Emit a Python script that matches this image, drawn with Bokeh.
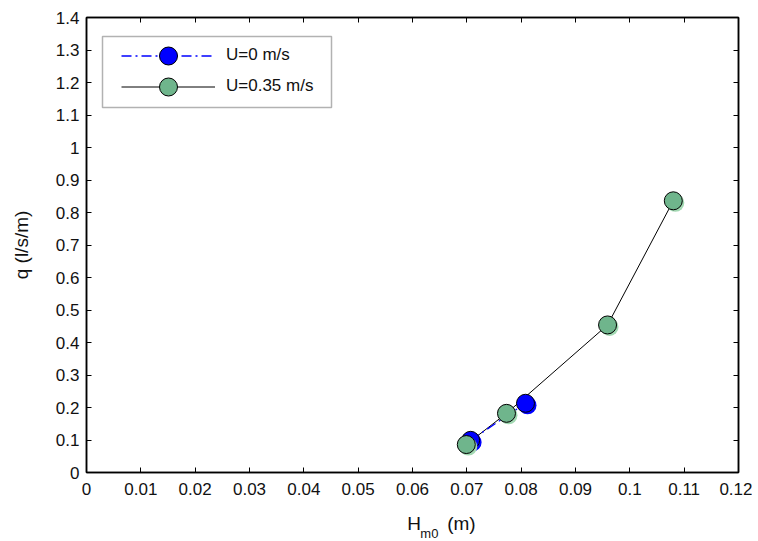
from bokeh.plotting import figure
from bokeh.layouts import column
from bokeh.models import (ColumnDataSource, FixedTicker, LinearAxis, Legend, LegendItem,
                          Range1d, BoxAnnotation)
from bokeh.core.properties import value
from bokeh.transform import dodge
from bokeh.embed import file_html
from bokeh.resources import INLINE

# ---- data ----
u0_h = [0.0707, 0.0808]
u0_q = [0.099, 0.213]
u35_h = [0.0699, 0.0773, 0.0959, 0.1080]
u35_q = [0.086, 0.182, 0.454, 0.836]

x_ticks = [0, 0.01, 0.02, 0.03, 0.04, 0.05, 0.06, 0.07, 0.08, 0.09, 0.1, 0.11, 0.12]
x_tick_labels = ["0", "0.01", "0.02", "0.03", "0.04", "0.05", "0.06", "0.07", "0.08",
                 "0.09", "0.1", "0.11", "0.12"]
y_ticks = [0, 0.1, 0.2, 0.3, 0.4, 0.5, 0.6, 0.7, 0.8, 0.9, 1.0, 1.1, 1.2, 1.3, 1.4]
y_tick_labels = ["0", "0.1", "0.2", "0.3", "0.4", "0.5", "0.6", "0.7", "0.8", "0.9",
                 "1", "1.1", "1.2", "1.3", "1.4"]
legend_labels = ["U=0 m/s", "U=0.35 m/s"]
x_label_main, x_label_sub, x_label_unit = "H", "m0", "(m)"
y_label = "q (l/s/m)"

# ---- layout (pixels) ----
W, H_TOTAL = 752, 541
H = 510                      # main figure height; strip below holds the x label
BL, BT = 86, 17
FR, FB = 738, 472            # frame right / bottom in canvas px
BR, BB = W - FR, H - FB
FW, FH = FR - BL, FB - BT
XMIN, XMAX, YMIN, YMAX = 0, 0.12, 0, 1.4
px_x = (XMAX - XMIN) / FW
px_y = (YMAX - YMIN) / FH

def dx(px):   # canvas px -> data x
    return XMIN + (px - BL) * px_x

def dy(py):   # canvas px -> data y
    return YMIN + (FB - py) * px_y

FONT = "Liberation Sans"
TXT = "#111111"
GREEN = "#6fb58c"
GREEN_SH = "#a3d9b3"
BLUE = "#0000ff"

p = figure(width=W, height=H, output_backend="svg", toolbar_location=None,
           x_range=Range1d(XMIN, XMAX), y_range=Range1d(YMIN, YMAX),
           min_border_left=BL, min_border_right=BR, min_border_top=BT, min_border_bottom=BB)
p.xgrid.visible = False
p.ygrid.visible = False
p.outline_line_color = "black"
p.outline_line_width = 1.5
p.background_fill_color = "white"
p.border_fill_color = "white"

src0 = ColumnDataSource(dict(h=u0_h, q=u0_q))
src35 = ColumnDataSource(dict(h=u35_h, q=u35_q))

l35 = p.line("h", "q", source=src35, line_color="black", line_width=1)
l0 = p.line("h", "q", source=src0, line_color=BLUE, line_width=1.3, line_dash="10 4 2 4")

sh0 = p.scatter(dodge("h", 2 * px_x), dodge("q", -2 * px_y), source=src0, size=18,
                fill_color=BLUE, line_color=None)
m0 = p.scatter("h", "q", source=src0, size=18, fill_color=BLUE, line_color="black", line_width=1)
sh35 = p.scatter(dodge("h", 2 * px_x), dodge("q", -2 * px_y), source=src35, size=18,
                 fill_color=GREEN_SH, line_color=None)
m35 = p.scatter("h", "q", source=src35, size=18, fill_color=GREEN, line_color="black", line_width=1)

xa = p.xaxis[0]
xa.ticker = FixedTicker(ticks=x_ticks)
xa.major_label_overrides = {t: s for t, s in zip(x_ticks, x_tick_labels)}
ya = p.yaxis[0]
ya.ticker = FixedTicker(ticks=y_ticks)
ya.major_label_overrides = {t: s for t, s in zip(y_ticks, y_tick_labels)}

for ax in (xa, ya):
    ax.major_tick_in = 5
    ax.major_tick_out = 0
    ax.minor_tick_line_color = None
    ax.axis_line_color = "black"
    ax.axis_line_width = 1.5
    ax.major_tick_line_color = "black"
    ax.major_label_text_font = FONT
    ax.major_label_text_font_size = "17px"
    ax.major_label_text_color = TXT

xa.major_label_standoff = 10
ya.major_label_standoff = 7
ya.axis_label = y_label
ya.axis_label_text_font = FONT
ya.axis_label_text_font_size = "19px"
ya.axis_label_text_font_style = "normal"
ya.axis_label_text_color = TXT
ya.axis_label_standoff = 21

for loc, ticks in (("above", x_ticks), ("right", y_ticks)):
    ax = LinearAxis(ticker=FixedTicker(ticks=ticks), major_label_text_font_size="0px",
                    major_label_text_color=None, major_tick_in=5, major_tick_out=0,
                    minor_tick_line_color=None, axis_line_width=1.5, major_label_standoff=0)
    p.add_layout(ax, loc)
p.min_border_top = BT
p.min_border_right = BR

# legend frame
p.add_layout(BoxAnnotation(left=dx(102), right=dx(331), top=dy(36), bottom=dy(107),
                           fill_color="white", fill_alpha=1.0, line_color="black",
                           line_width=1.5, level="annotation"))

GH = 45
for lab, rends, cy in ((legend_labels[0], [l0, sh0, m0], 55),
                       (legend_labels[1], [l35, sh35, m35], 86)):
    lg = Legend(items=[LegendItem(label=lab, renderers=rends)],
                location=(121 - BL, FH - (cy - GH / 2 - BT) - GH))
    lg.glyph_width = 94
    lg.glyph_height = GH
    lg.padding = 0
    lg.margin = 0
    lg.spacing = 0
    lg.label_standoff = 11
    lg.label_text_font = FONT
    lg.label_text_font_size = "17px"
    lg.label_text_color = TXT
    lg.label_text_baseline = "middle"
    lg.border_line_color = None
    lg.background_fill_alpha = 0.0
    p.add_layout(lg, "center")

# ---- strip with the x-axis title "H_m0 (m)" (page pixel coordinates) ----
s = figure(width=W, height=H_TOTAL - H, output_backend="svg", toolbar_location=None,
           x_range=Range1d(0, W), y_range=Range1d(H_TOTAL, H),
           x_axis_type=None, y_axis_type=None,
           min_border_left=0, min_border_right=0, min_border_top=0, min_border_bottom=0)
s.outline_line_color = None
s.xgrid.visible = False
s.ygrid.visible = False
s.background_fill_color = "white"
s.border_fill_color = "white"
s.text(x=[370], y=[523], text=[x_label_main], text_font=value(FONT), text_font_size="19px",
       text_color=TXT, text_baseline="alphabetic", text_align="left")
s.text(x=[385], y=[533], text=[x_label_sub], text_font=value(FONT), text_font_size="13px",
       text_color=TXT, text_baseline="alphabetic", text_align="left")
s.text(x=[416], y=[523], text=[x_label_unit], text_font=value(FONT), text_font_size="19px",
       text_color=TXT, text_baseline="alphabetic", text_align="left")

layout = column(p, s, spacing=0)
open("out.html", "w").write(file_html(layout, INLINE))
